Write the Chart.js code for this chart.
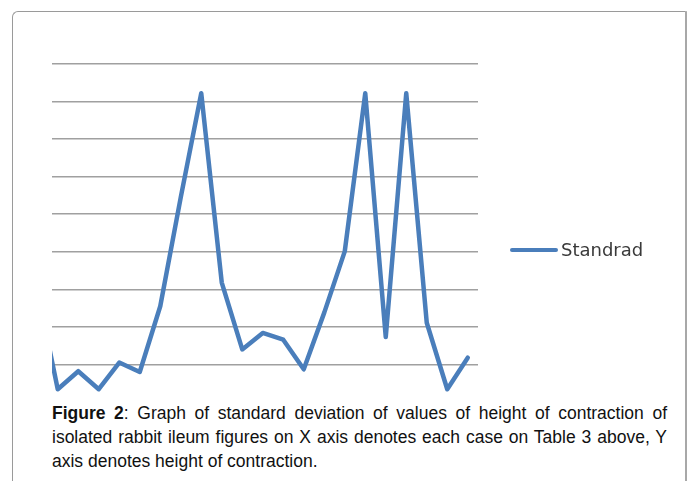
<!DOCTYPE html>
<html>
<head>
<meta charset="utf-8">
<script src="https://cdn.jsdelivr.net/npm/chart.js@4/dist/chart.umd.min.js"></script>
<style>
  html, body { margin: 0; padding: 0; background: #ffffff; }
  body { width: 695px; height: 481px; position: relative; overflow: hidden; }
  #frame {
    position: absolute; left: 12px; top: 11px; width: 675px; height: 520px;
    border: 1px solid #9a9a9a; border-right: 2px solid #a8a8a8;
    border-top-left-radius: 6px; box-sizing: border-box;
  }
  #clip {
    position: absolute; left: 52px; top: 0; width: 643px; height: 393px; overflow: hidden;
  }
  #clip canvas { position: absolute; left: -52px; top: 0; }
  #legend {
    position: absolute; left: 510px; top: 237px; height: 25px;
    display: flex; align-items: center;
    font-family: "DejaVu Sans", sans-serif; font-size: 18px; color: #3a3a3a;
  }
  #legend .swatch { width: 48px; height: 4px; margin-right: 3px; border-radius: 2px; }
  #caption {
    position: absolute; left: 52px; top: 401px; width: 615px;
    font-family: "Liberation Sans", Arial, sans-serif; font-size: 17.5px; line-height: 24px;
    color: #111; text-align: justify;
  }
</style>
</head>
<body>
<div id="frame"></div>
<div id="clip"><canvas id="c" width="695" height="440"></canvas></div>
<div id="legend"></div>
<div id="caption"><b>Figure 2</b>: Graph of standard deviation of values of height of contraction of isolated rabbit ileum figures on X axis denotes each case on Table 3 above, Y axis denotes height of contraction.</div>
<script>
// Cases (X axis) — the first case lies left of the cropped picture edge
const cases = ["1","2","3","4","5","6","7","8","9","10","11","12","13","14","15","16","17","18","19","20","21","22"];
// Standard deviation of height of contraction (in gridline units)
const standrad = [3.0, 0.34, 0.82, 0.34, 1.05, 0.8, 2.55, 5.45, 8.22, 3.18, 1.4, 1.84, 1.66, 0.87, 2.38, 4.01, 8.22, 1.73, 8.22, 2.11, 0.34, 1.18];
const seriesLabel = "Standrad";
const yMin = 0, yMax = 9, yStep = 1;

const lineColor = "#4a7ebb";

const chart = new Chart(document.getElementById("c"), {
  type: "line",
  data: {
    labels: cases,
    datasets: [{
      label: seriesLabel,
      data: standrad,
      borderColor: lineColor,
      backgroundColor: lineColor,
      borderWidth: 4.5,
      pointRadius: 0,
      tension: 0,
      borderJoinStyle: "round",
      borderCapStyle: "round"
    }]
  },
  options: {
    responsive: false,
    devicePixelRatio: 1,
    animation: false,
    layout: { padding: { left: 27, right: 217, top: 64, bottom: 38 } },
    plugins: { legend: { display: false }, tooltip: { enabled: false } },
    scales: {
      x: { type: "category", offset: true, display: false },
      y: {
        min: yMin, max: yMax,
        ticks: { display: false, stepSize: yStep },
        grid: { color: "#a0a0a0", lineWidth: 1.5, drawTicks: false },
        border: { display: false }
      }
    }
  }
});

// HTML legend built from the chart's dataset
const legend = document.getElementById("legend");
chart.data.datasets.forEach(ds => {
  const sw = document.createElement("span");
  sw.className = "swatch";
  sw.style.background = ds.borderColor;
  const tx = document.createElement("span");
  tx.textContent = ds.label;
  legend.appendChild(sw);
  legend.appendChild(tx);
});
</script>
</body>
</html>
